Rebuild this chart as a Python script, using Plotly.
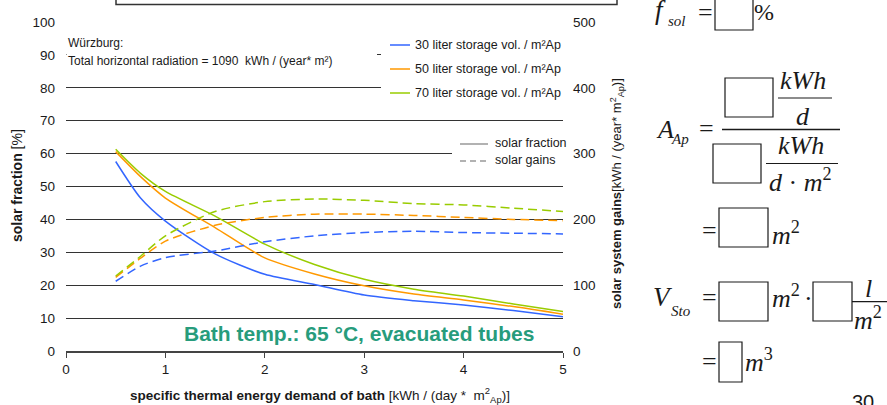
import plotly.graph_objects as go

# Specific thermal energy demand of bath [kWh / (day * m²Ap)]
demand = [0.5, 0.75, 1.0, 1.5, 2.0, 2.5, 3.0, 3.5, 4.0, 4.5, 5.0]

# Solar fraction [%] per storage volume
fraction_30 = [57.6, 46.5, 39.5, 29.5, 23.3, 20.2, 17.0, 15.3, 14.0, 12.3, 10.4]
fraction_50 = [60.6, 53.0, 46.5, 37.5, 28.3, 23.4, 19.8, 17.3, 15.5, 13.5, 11.2]
fraction_70 = [61.3, 54.0, 48.5, 41.0, 32.5, 26.3, 21.8, 18.8, 16.7, 14.3, 12.0]

# Solar system gains [kWh / (year * m²Ap)] per storage volume
gains_30 = [106, 129, 142, 152, 166, 175, 180, 182, 180, 179, 178]
gains_50 = [112, 141, 167, 191, 203, 208, 208, 206, 203, 200, 198]
gains_70 = [114, 144, 175, 212, 227, 231, 229, 224, 222, 217, 212]

series_names = ["30 liter storage vol. / m²Ap",
                "50 liter storage vol. / m²Ap",
                "70 liter storage vol. / m²Ap"]
series_colors = ["#3366ff", "#ff9900", "#99cc00"]

W, H = 887, 405
L, R, T, B = 66, 563, 22, 351  # plot area edges in pixels

SANS = "Liberation Sans, Arial, sans-serif"
SERIF = "Liberation Serif, Times New Roman, serif"
INK = "#1a1a1a"


def px(x):
    return (x - L) / (R - L)


def py(y):
    return (B - y) / (B - T)


fig = go.Figure()

for name, color, frac, gain in zip(series_names, series_colors,
                                   [fraction_30, fraction_50, fraction_70],
                                   [gains_30, gains_50, gains_70]):
    fig.add_trace(go.Scatter(x=demand, y=frac, mode="lines", name=name,
                             line=dict(color=color, width=1.5,
                                       shape="spline", smoothing=0.7)))
    fig.add_trace(go.Scatter(x=demand, y=gain, mode="lines", name=name,
                             yaxis="y2",
                             line=dict(color=color, width=1.5, dash="9px,5px",
                                       shape="spline", smoothing=0.7)))

shapes = []
annotations = []


def rect(x0, y0, x1, y1, fill=None, line_color=INK, width=1.2, layer="above"):
    shapes.append(dict(type="rect", xref="paper", yref="paper",
                       x0=px(x0), x1=px(x1), y0=py(y0), y1=py(y1),
                       fillcolor=fill if fill else "rgba(0,0,0,0)",
                       line=dict(color=line_color, width=width),
                       layer=layer))


def rule(x0, y0, x1, y1, color=INK, width=1.2, dash="solid"):
    shapes.append(dict(type="line", xref="paper", yref="paper",
                       x0=px(x0), x1=px(x1), y0=py(y0), y1=py(y1),
                       line=dict(color=color, width=width, dash=dash)))


def text(x, y, s, size, family=SANS, color=INK, xanchor="center",
         yanchor="middle", angle=0):
    annotations.append(dict(x=px(x), y=py(y), xref="paper", yref="paper",
                            text=s, showarrow=False, xanchor=xanchor,
                            yanchor=yanchor, textangle=angle,
                            font=dict(family=family, size=size, color=color)))


# White panels behind the in-plot texts and legends (mask the gridlines)
rect(66.5, 36, 377, 70, fill="white", line_color="white", width=0)
rect(381, 34, 563, 102, fill="white", line_color="white", width=0)
rect(452, 136, 563, 170, fill="white", line_color="white", width=0)

# Frame at the top of the slide
rect(116, -20, 617, 4.5, line_color="#333333", width=1.5)

# Location note
text(66, 43, "Würzburg:", 12, xanchor="left")
text(66, 61, "Total horizontal radiation = 1090  kWh / (year* m²)", 12,
     xanchor="left")

# Colour legend
for i, (name, color) in enumerate(zip(series_names, series_colors)):
    y = 45 + 24 * i
    rule(390, y, 410, y, color=color, width=1.5)
    text(413, y, name, 12.5, xanchor="left")

# Line style legend
rule(460, 144, 488, 144, color="#999999", width=1.5)
text(493, 143, "solar fraction", 12.5, xanchor="left")
rule(460, 161, 488, 161, color="#999999", width=1.5, dash="6px,4px")
text(493, 160, "solar gains", 12.5, xanchor="left")

# Operating condition label
text(359, 333, "<b>Bath temp.: 65 °C, evacuated tubes</b>", 21, color="#279c7c")

# Axis titles
text(17, 186, "<b>solar fraction</b> [%]", 14, angle=-90)
text(617, 194, "<b>solar system gains</b>[kWh / (year* m<sup>2</sup><sub>Ap</sub>)]",
     13, angle=-90)
text(320, 395, "<b>specific thermal energy demand of bath</b> "
     "[kWh / (day *  m<sup>2</sup><sub>Ap</sub>)]", 13.5)

# Worked-example formulas
# f_sol = [ ] %
text(660, 10, "<i>f</i>", 27, family=SERIF)
text(677, 21, "<i>sol</i>", 15, family=SERIF)
text(705, 12, "=", 26, family=SERIF)
rect(715, -10, 753, 30)
text(764, 12, "%", 24, family=SERIF)

# A_Ap = [ ] kWh/d / [ ] kWh/(d·m²)
text(665, 129, "<i>A</i>", 26, family=SERIF)
text(680, 139, "<i>Ap</i>", 15, family=SERIF)
text(706, 128, "=", 26, family=SERIF)
rule(722, 129.5, 840, 129.5, width=1.5)
rect(725, 78, 773, 117)
text(803, 80, "<i>kWh</i>", 26, family=SERIF)
rule(778, 98, 832, 98, width=1.2)
text(803, 116, "<i>d</i>", 26, family=SERIF)
rect(713, 144, 761, 183)
text(801, 145, "<i>kWh</i>", 26, family=SERIF)
rule(766, 163.5, 838, 163.5, width=1.2)
text(800, 180, "<i>d</i> · <i>m</i><sup>2</sup>", 26, family=SERIF)

# = [ ] m²
text(709, 231, "=", 26, family=SERIF)
rect(719, 208, 768, 247)
text(770, 233, "<i>m</i><sup>2</sup>", 26, family=SERIF, xanchor="left")

# V_Sto = [ ] m² · [ ] l/m²
text(663, 297, "<i>V</i>", 27, family=SERIF)
text(681, 311, "<i>Sto</i>", 15, family=SERIF)
text(709, 297, "=", 26, family=SERIF)
rect(719, 282, 768, 321)
text(770, 296, "<i>m</i><sup>2</sup>", 26, family=SERIF, xanchor="left")
text(808, 298, "·", 26, family=SERIF)
rect(813, 282, 852, 321)
text(868, 288, "<i>l</i>", 26, family=SERIF)
rule(852, 301.7, 890, 301.7, width=1.2)
text(852, 318, "<i>m</i><sup>2</sup>", 26, family=SERIF, xanchor="left")

# = [ ] m³
text(709, 361, "=", 26, family=SERIF)
rect(719, 342, 742, 382)
text(743, 360, "<i>m</i><sup>3</sup>", 26, family=SERIF, xanchor="left")

# Slide number
text(863, 389, "30", 20, yanchor="top")

fig.update_layout(
    width=W, height=H,
    margin=dict(l=L, r=W - R, t=T, b=H - B),
    paper_bgcolor="white", plot_bgcolor="white",
    showlegend=False,
    font=dict(family=SANS, size=13, color=INK),
    shapes=shapes, annotations=annotations,
    xaxis=dict(range=[0, 5], tickmode="linear", tick0=0, dtick=1,
               showgrid=False, zeroline=False, showline=True,
               linecolor="#444444", linewidth=1.5, ticks="outside", ticklen=5,
               tickcolor="#444444", tickfont=dict(size=13.5, color=INK)),
    yaxis=dict(range=[0, 100], tickmode="linear", tick0=0, dtick=10,
               showgrid=True, gridcolor="#333333", gridwidth=1,
               zeroline=False, showline=False, ticks="",
               ticklabelstandoff=10,
               tickfont=dict(size=13.5, color=INK)),
    yaxis2=dict(range=[0, 500], tickmode="linear", tick0=0, dtick=100,
                overlaying="y", side="right", showgrid=False,
                zeroline=False, showline=False, ticks="",
                ticklabelstandoff=9,
                tickfont=dict(size=13.5, color=INK)),
)

fig.write_html("out.html")
